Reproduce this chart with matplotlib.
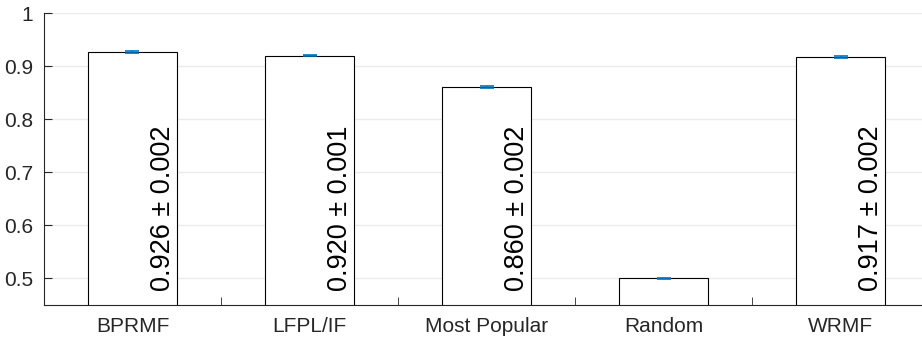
import matplotlib
matplotlib.use('Agg')
import matplotlib.pyplot as plt
import numpy as np

plt.rcParams['font.family'] = ['Liberation Sans', 'DejaVu Sans']

methods = ['BPRMF', 'LFPL/IF', 'Most Popular', 'Random', 'WRMF']
auc = [0.926, 0.920, 0.860, 0.500, 0.917]
err = [0.002, 0.001, 0.002, 0.001, 0.002]
labels = ['0.926 ± 0.002', '0.920 ± 0.001', '0.860 ± 0.002', '', '0.917 ± 0.002']

fig = plt.figure(figsize=(9.22, 3.37), dpi=100)
ax = fig.add_axes([0.0477, 0.095, 0.96, 0.866])

x = np.arange(1, len(methods) + 1)
ax.bar(x, auc, width=0.5, color='white', edgecolor='black', linewidth=0.8, zorder=2)
ax.errorbar(x, auc, yerr=err, fmt='none', ecolor='#0072BD', elinewidth=1.2,
            capsize=5, capthick=1.2, zorder=3)

for xi, lab in zip(x, labels):
    if lab:
        ax.text(xi + 0.17, 0.477, lab, rotation=90, ha='center', va='bottom',
                fontsize=19.5, zorder=4)

ax.set_xlim(0.5, 5.5)
ax.set_ylim(0.45, 1.0)
ax.set_yticks([0.5, 0.6, 0.7, 0.8, 0.9, 1.0])
ax.set_yticklabels(['0.5', '0.6', '0.7', '0.8', '0.9', '1'])
ax.set_xticks(x)
ax.set_xticklabels(methods)
ax.set_xticks(np.arange(1.5, 5.5, 1), minor=True)
ax.tick_params(axis='x', which='major', length=0, labelsize=15, pad=9,
               labelcolor='#262626')
ax.tick_params(axis='x', which='minor', direction='in', length=6, color='#262626')
ax.tick_params(axis='y', direction='in', length=6, labelsize=15, pad=8,
               color='#262626', labelcolor='#262626')
ax.yaxis.grid(True, color='#ebebeb', linewidth=1, zorder=0)
ax.set_axisbelow(True)
for s in ['top', 'right']:
    ax.spines[s].set_visible(False)
ax.spines['left'].set_color('#262626')
ax.spines['bottom'].set_color('#262626')

fig.savefig('out.png', dpi=100)
